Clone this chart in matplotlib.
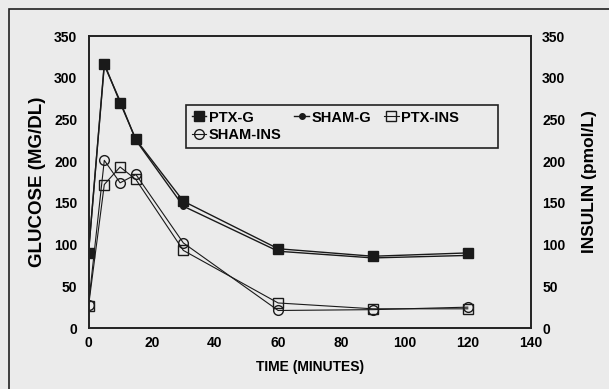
import matplotlib
matplotlib.use("Agg")
import matplotlib.pyplot as plt
from matplotlib.patches import Rectangle

# time points (minutes)
time = [0, 5, 10, 15, 30, 60, 90, 120]

# glucose (mg/dl)
ptx_g = [90, 317, 270, 226, 152, 95, 86, 90]
sham_g = [90, 315, 272, 225, 146, 92, 84, 87]

# insulin (pmol/L)
ptx_ins = [26, 172, 193, 178, 93, 30, 23, 23]
sham_ins = [28, 201, 174, 184, 102, 21, 22, 25]

bg = "#ebebeb"
plt.rcParams["font.family"] = ["Liberation Sans", "DejaVu Sans"]
plt.rcParams["font.weight"] = "bold"

fig = plt.figure(figsize=(6.09, 3.89), dpi=100, facecolor=bg)
# outer frame of the scanned figure
fig.patches.append(Rectangle((8.5 / 609, -0.1), 1.2, 1 - 8.5 / 389 + 0.1,
                             transform=fig.transFigure, fill=False,
                             edgecolor="#222222", lw=1.2))

ax = fig.add_axes([88.5 / 609, 1 - 328 / 389, (531 - 88.5) / 609, (328 - 36) / 389])
ax.set_facecolor(bg)
ax2 = ax.twinx()

lc = "#1a1a1a"
l1, = ax.plot(time, ptx_g, color=lc, lw=1, marker="s", ms=6.5, mfc=lc, mec=lc, label="PTX-G")
l2, = ax.plot(time, sham_g, color=lc, lw=1, marker="o", ms=4, mfc=lc, mec=lc, label="SHAM-G")
l3, = ax2.plot(time, ptx_ins, color=lc, lw=0.8, marker="s", ms=6.5, mfc="none", mec=lc, label="PTX-INS")
l4, = ax2.plot(time, sham_ins, color=lc, lw=0.8, marker="o", ms=7, mfc="none", mec=lc, label="SHAM-INS")

for a in (ax, ax2):
    a.set_ylim(0, 350)
    a.set_yticks(range(0, 351, 50))
    a.tick_params(length=0, labelsize=10, pad=8)
    for s in a.spines.values():
        s.set_color("#222222")
        s.set_linewidth(1.2)
ax.set_xlim(0, 140)
ax.set_xticks(range(0, 141, 20))
ax.tick_params(axis="x", pad=6)

ax.set_xlabel("TIME (MINUTES)", fontsize=10, fontweight="bold", labelpad=7)
ax.set_ylabel("GLUCOSE (MG/DL)", fontsize=13.5, fontweight="bold", labelpad=6)
ax2.set_ylabel("INSULIN (pmol/L)", fontsize=12.5, fontweight="bold", labelpad=12)

# legend box drawn separately (it is wider than its entries)
ax2.add_patch(Rectangle((0.2203, 0.6164), 0.7051, 0.1473, transform=ax2.transAxes,
                        facecolor=bg, edgecolor="#222222", lw=1.2, zorder=4))
# row-major order: PTX-G, SHAM-G, PTX-INS / SHAM-INS
leg = ax2.legend(handles=[l1, l4, l2, l3], ncol=3, loc="upper left",
                 bbox_to_anchor=(0.222, 0.762), fontsize=10.5, frameon=False,
                 handlelength=1.0, handletextpad=0.15, columnspacing=0.9,
                 borderpad=0.35, labelspacing=0.25, borderaxespad=0)
leg.set_zorder(5)
for t in leg.get_texts():
    t.set_fontweight("bold")

fig.savefig("out.png", dpi=100, facecolor=bg)
